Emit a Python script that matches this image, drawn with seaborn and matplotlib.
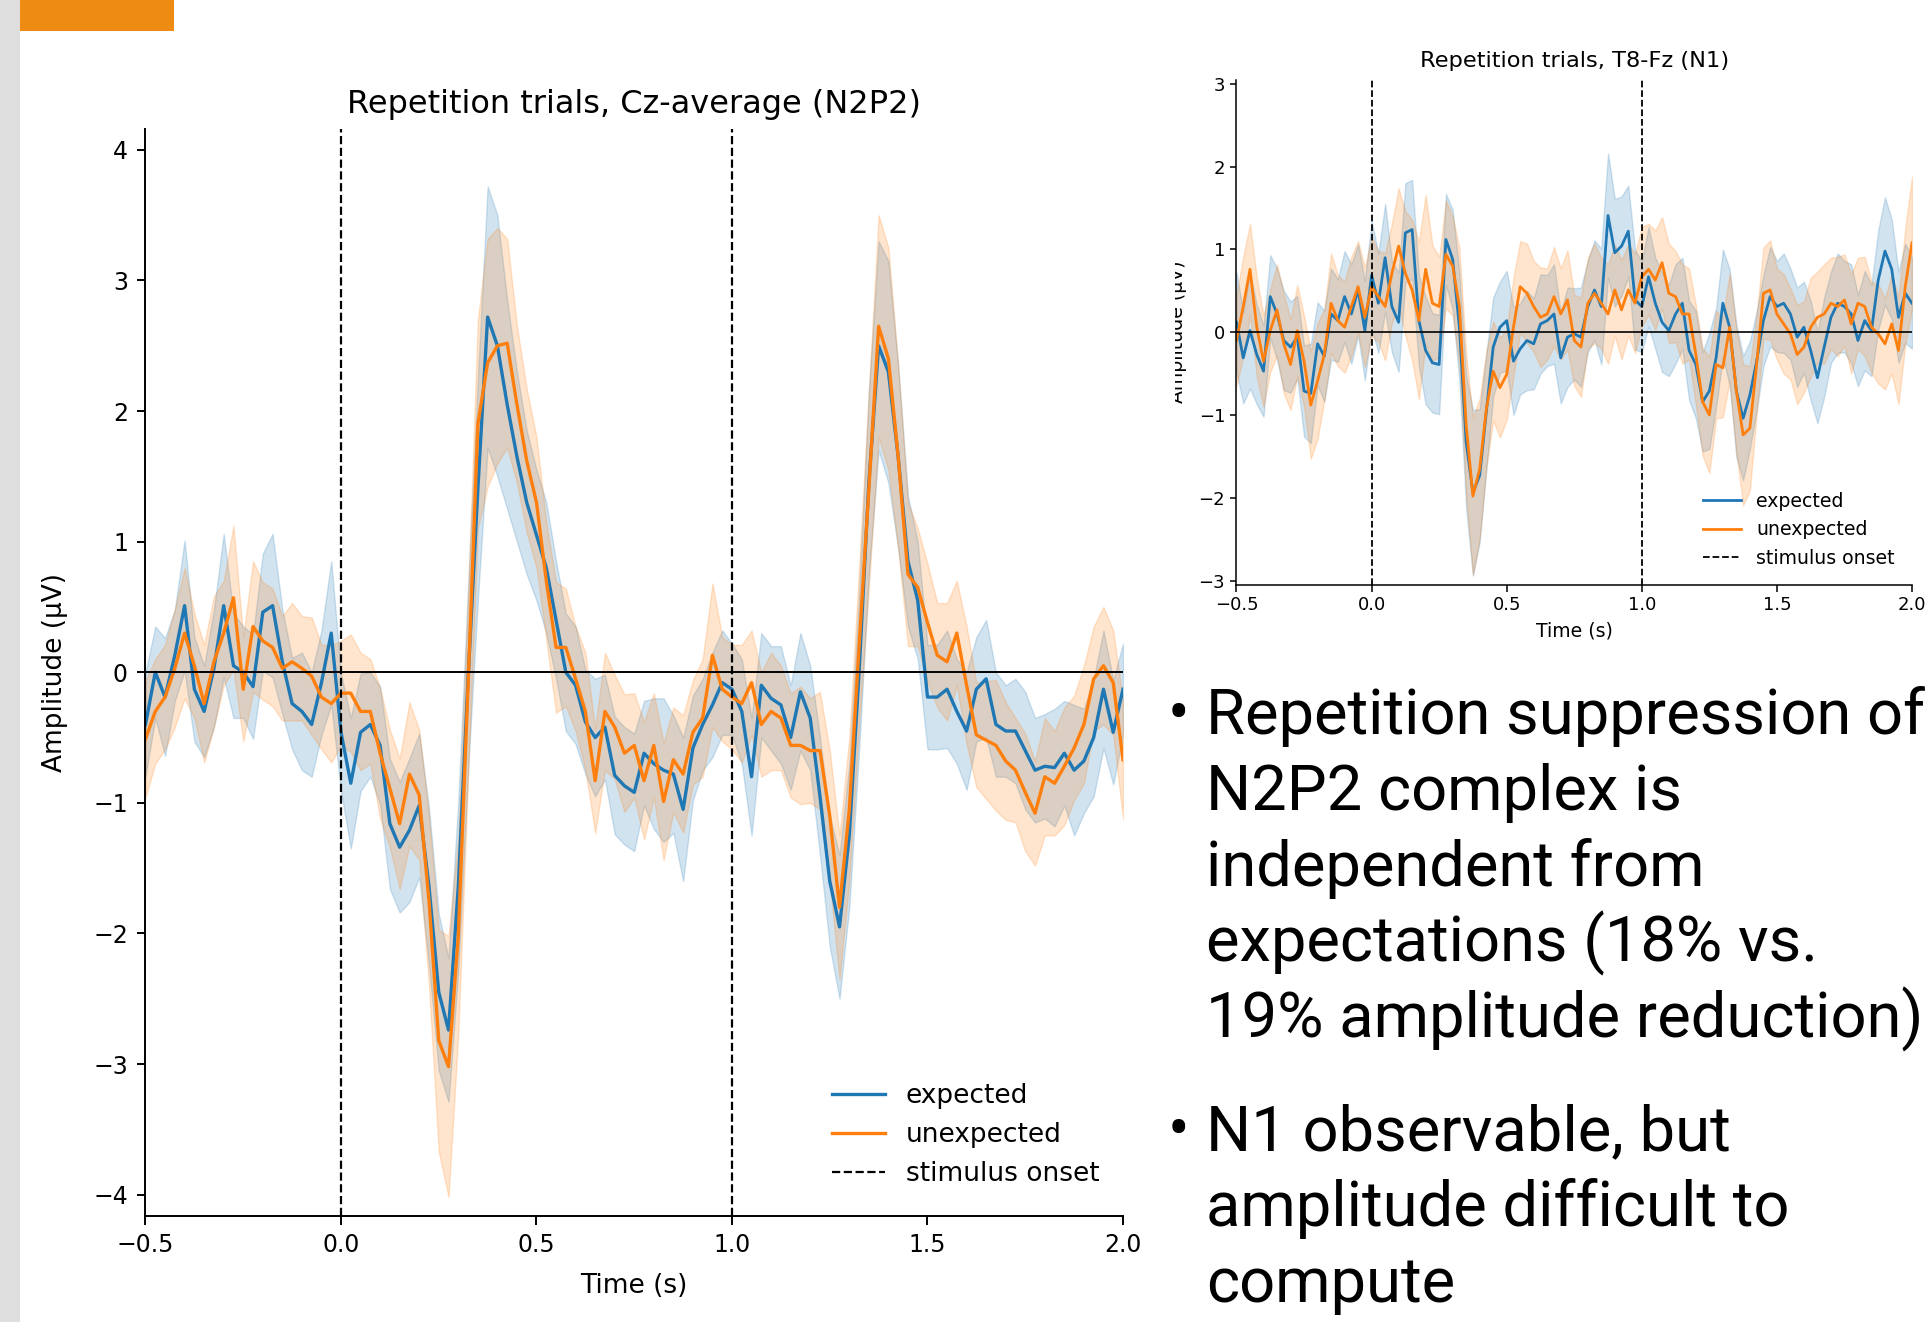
import numpy as np
import pandas as pd
import matplotlib
matplotlib.use("Agg")
import matplotlib.pyplot as plt
import seaborn as sns
from matplotlib.patches import Rectangle
from matplotlib.lines import Line2D
from matplotlib.transforms import Bbox, TransformedBbox

# ---------------- data ----------------
time = np.round(np.arange(101) * 0.025 - 0.5, 3)   # seconds, -0.5 .. 2.0
conditions = ["expected", "unexpected"]
onsets = [0.0, 1.0]
x_ticks = [-0.5, 0.0, 0.5, 1.0, 1.5, 2.0]
left_yticks = [-4, -3, -2, -1, 0, 1, 2, 3, 4]
right_yticks = [-3, -2, -1, 0, 1, 2, 3]

# Cz-average (N2P2) mean amplitudes (µV)
cz_expected = [
    -0.40, 0.00, -0.19, 0.13, 0.51, -0.13, -0.30, 0.03, 0.51, 0.05,
    0.00, -0.11, 0.46, 0.51, 0.08, -0.24, -0.30, -0.40, -0.08, 0.30,
    -0.46, -0.85, -0.46, -0.40, -0.56, -1.16, -1.34, -1.21, -1.02, -1.64,
    -2.45, -2.74, -1.64, -0.05, 1.40, 2.72, 2.50, 2.05, 1.65, 1.30,
    1.05, 0.80, 0.40, 0.00, -0.10, -0.38, -0.50, -0.42, -0.79, -0.87,
    -0.92, -0.62, -0.70, -0.75, -0.78, -1.05, -0.58, -0.40, -0.25, -0.08,
    -0.13, -0.30, -0.80, -0.10, -0.20, -0.25, -0.50, -0.15, -0.35, -0.95,
    -1.60, -1.95, -1.25, 0.00, 1.45, 2.50, 2.30, 1.65, 0.85, 0.55,
    -0.19, -0.19, -0.13, -0.30, -0.45, -0.13, -0.05, -0.40, -0.45, -0.45,
    -0.60, -0.75, -0.72, -0.73, -0.62, -0.75, -0.68, -0.50, -0.13, -0.46, -0.13]
cz_unexpected = [
    -0.51, -0.30, -0.19, 0.03, 0.30, 0.05, -0.24, 0.08, 0.30, 0.57,
    -0.13, 0.35, 0.24, 0.19, 0.03, 0.08, 0.03, -0.03, -0.19, -0.24,
    -0.16, -0.16, -0.30, -0.30, -0.62, -0.89, -1.16, -0.78, -0.94, -1.75,
    -2.82, -3.02, -2.02, -0.10, 1.90, 2.37, 2.50, 2.52, 2.05, 1.62,
    1.30, 0.70, 0.19, 0.19, -0.05, -0.30, -0.83, -0.30, -0.42, -0.62,
    -0.56, -0.83, -0.56, -0.99, -0.67, -0.78, -0.46, -0.35, 0.13, -0.13,
    -0.19, -0.24, -0.08, -0.40, -0.30, -0.35, -0.56, -0.56, -0.60, -0.60,
    -1.10, -1.80, -1.05, 0.20, 1.40, 2.65, 2.40, 1.65, 0.75, 0.65,
    0.38, 0.13, 0.08, 0.30, -0.10, -0.48, -0.52, -0.56, -0.68, -0.75,
    -0.92, -1.08, -0.80, -0.85, -0.72, -0.58, -0.40, -0.05, 0.05, -0.08, -0.67]
cz_expected_ci = [
    0.40, 0.35, 0.45, 0.35, 0.50, 0.40, 0.35, 0.45, 0.55, 0.40,
    0.35, 0.40, 0.45, 0.55, 0.40, 0.35, 0.45, 0.40, 0.40, 0.55,
    0.45, 0.50, 0.45, 0.40, 0.45, 0.50, 0.50, 0.55, 0.55, 0.60,
    0.60, 0.55, 0.65, 0.70, 0.85, 1.00, 1.00, 0.80, 0.65, 0.55,
    0.50, 0.50, 0.45, 0.45, 0.45, 0.40, 0.45, 0.40, 0.45, 0.45,
    0.45, 0.40, 0.50, 0.55, 0.45, 0.55, 0.40, 0.35, 0.40, 0.40,
    0.35, 0.40, 0.45, 0.40, 0.40, 0.45, 0.40, 0.45, 0.40, 0.45,
    0.50, 0.55, 0.55, 0.60, 0.70, 0.80, 0.85, 0.70, 0.50, 0.45,
    0.40, 0.40, 0.45, 0.40, 0.45, 0.40, 0.45, 0.40, 0.35, 0.40,
    0.45, 0.40, 0.40, 0.45, 0.40, 0.50, 0.40, 0.45, 0.45, 0.40, 0.35]
cz_unexpected_ci = [
    0.45, 0.40, 0.40, 0.45, 0.50, 0.40, 0.45, 0.50, 0.40, 0.55,
    0.40, 0.50, 0.45, 0.45, 0.40, 0.45, 0.40, 0.45, 0.40, 0.45,
    0.40, 0.45, 0.45, 0.40, 0.50, 0.45, 0.50, 0.55, 0.50, 0.65,
    0.85, 1.00, 0.75, 0.70, 0.80, 0.95, 0.90, 0.80, 0.60, 0.55,
    0.50, 0.45, 0.50, 0.45, 0.40, 0.45, 0.40, 0.45, 0.40, 0.45,
    0.40, 0.45, 0.40, 0.45, 0.40, 0.45, 0.40, 0.45, 0.55, 0.40,
    0.40, 0.45, 0.40, 0.40, 0.45, 0.40, 0.40, 0.45, 0.40, 0.45,
    0.50, 0.55, 0.55, 0.60, 0.75, 0.85, 0.85, 0.70, 0.55, 0.45,
    0.45, 0.40, 0.45, 0.40, 0.45, 0.40, 0.45, 0.50, 0.45, 0.40,
    0.45, 0.40, 0.45, 0.40, 0.45, 0.40, 0.45, 0.40, 0.45, 0.40, 0.45]

# T8-Fz (N1) mean amplitudes (µV)
t8_expected = [
    0.12, -0.31, 0.02, -0.27, -0.47, 0.43, 0.22, -0.10, -0.18, -0.06,
    -0.71, -0.74, -0.14, -0.29, 0.22, 0.14, 0.43, 0.22, 0.51, 0.02,
    0.69, 0.35, 0.90, 0.31, 0.12, 1.20, 1.24, 0.14, -0.22, -0.37,
    -0.39, 1.12, 0.88, 0.06, -1.33, -1.94, -1.73, -0.95, -0.18, 0.06,
    0.14, -0.35, -0.20, -0.10, -0.14, 0.10, 0.14, 0.22, -0.31, -0.06,
    -0.02, -0.06, 0.31, 0.51, 0.31, 1.41, 0.96, 1.04, 1.22, 0.39,
    0.31, 0.67, 0.35, 0.12, 0.02, 0.22, 0.35, -0.22, -0.39, -0.84,
    -0.71, -0.31, 0.35, 0.06, -0.71, -1.04, -0.76, -0.35, 0.14, 0.43,
    0.31, 0.35, 0.22, -0.06, 0.06, -0.22, -0.55, -0.18, 0.18, 0.35,
    0.31, 0.22, -0.10, 0.14, 0.02, 0.63, 0.98, 0.76, 0.18, 0.47, 0.35]
t8_unexpected = [
    -0.10, 0.31, 0.76, 0.06, -0.35, 0.02, 0.27, -0.14, -0.39, 0.02,
    -0.35, -0.88, -0.59, -0.27, 0.35, 0.14, 0.06, 0.31, 0.55, 0.18,
    0.55, 0.43, 0.31, 0.71, 1.04, 0.71, 0.51, 0.14, 0.76, 0.35,
    0.31, 0.94, 0.80, 0.31, -1.12, -1.98, -1.65, -0.92, -0.47, -0.67,
    -0.51, 0.06, 0.55, 0.47, 0.31, 0.18, 0.22, 0.43, 0.22, 0.39,
    -0.10, -0.18, 0.35, 0.47, 0.35, 0.22, 0.51, 0.27, 0.51, 0.35,
    0.67, 0.76, 0.63, 0.84, 0.47, 0.43, 0.22, 0.22, -0.27, -0.84,
    -1.00, -0.39, -0.43, 0.06, -0.71, -1.24, -1.16, -0.39, 0.47, 0.51,
    0.22, 0.10, -0.02, -0.27, -0.18, 0.06, 0.18, 0.22, 0.35, 0.31,
    0.39, 0.10, 0.35, 0.31, 0.06, -0.02, -0.14, 0.10, -0.22, 0.55, 1.08]
t8_expected_ci = [
    0.60, 0.55, 0.70, 0.60, 0.55, 0.50, 0.55, 0.60, 0.55, 0.50,
    0.55, 0.60, 0.50, 0.55, 0.55, 0.50, 0.55, 0.60, 0.55, 0.60,
    0.65, 0.60, 0.65, 0.55, 0.60, 0.60, 0.60, 0.55, 0.65, 0.60,
    0.60, 0.55, 0.60, 0.65, 0.80, 1.00, 0.80, 0.70, 0.60, 0.55,
    0.60, 0.65, 0.55, 0.60, 0.55, 0.60, 0.55, 0.60, 0.55, 0.60,
    0.55, 0.60, 0.55, 0.60, 0.70, 0.75, 0.65, 0.60, 0.55, 0.60,
    0.55, 0.60, 0.55, 0.60, 0.55, 0.60, 0.55, 0.60, 0.65, 0.60,
    0.70, 0.60, 0.65, 0.70, 0.80, 0.75, 0.65, 0.60, 0.55, 0.60,
    0.55, 0.60, 0.55, 0.60, 0.55, 0.60, 0.55, 0.60, 0.55, 0.60,
    0.55, 0.60, 0.55, 0.60, 0.55, 0.60, 0.65, 0.60, 0.55, 0.60, 0.55]
t8_unexpected_ci = [
    0.55, 0.60, 0.55, 0.60, 0.55, 0.50, 0.55, 0.60, 0.55, 0.55,
    0.55, 0.65, 0.70, 0.55, 0.60, 0.55, 0.55, 0.60, 0.55, 0.60,
    0.60, 0.55, 0.65, 0.60, 0.70, 0.75, 0.85, 0.95, 0.90, 0.70,
    0.60, 0.65, 0.60, 0.70, 0.85, 0.95, 0.85, 0.70, 0.60, 0.60,
    0.55, 0.60, 0.55, 0.60, 0.55, 0.60, 0.55, 0.60, 0.55, 0.60,
    0.55, 0.60, 0.55, 0.60, 0.55, 0.60, 0.55, 0.60, 0.55, 0.60,
    0.60, 0.55, 0.60, 0.55, 0.60, 0.55, 0.60, 0.55, 0.60, 0.65,
    0.70, 0.65, 0.60, 0.65, 0.75, 0.85, 0.75, 0.60, 0.55, 0.60,
    0.55, 0.60, 0.55, 0.60, 0.55, 0.60, 0.55, 0.60, 0.55, 0.60,
    0.55, 0.60, 0.55, 0.60, 0.55, 0.60, 0.55, 0.60, 0.65, 0.70, 0.80]

bullet_lines_1 = ["Repetition suppression of", "N2P2 complex is", "independent from",
                  "expectations (18% vs.", "19% amplitude reduction)"]
bullet_lines_2 = ["N1 observable, but", "amplitude difficult to", "compute"]

colors = ["#1f77b4", "#ff7f0e"]

# ---------------- figure ----------------
W, H = 1933, 1322
fig = plt.figure(figsize=(W / 100, H / 100), dpi=100)
fig.patch.set_facecolor("white")

# slide decorations
fig.patches.append(Rectangle((0, 0), 20 / W, 1, transform=fig.transFigure,
                             facecolor="#dedede", edgecolor="none", zorder=0))
fig.patches.append(Rectangle((20 / W, 1 - 31 / H), 154 / W, 31 / H, transform=fig.transFigure,
                             facecolor="#ee8b12", edgecolor="none", zorder=0))


def band_frame(mean, ci, cond):
    mean = np.asarray(mean)
    ci = np.asarray(ci)
    return pd.DataFrame({
        "Time": np.concatenate([time, time]),
        "Amplitude": np.concatenate([mean - ci, mean + ci]),
        "condition": cond,
    })


def draw_panel(ax, exp_mean, exp_ci, une_mean, une_ci, lw, yticks, ylim,
               title, tick_fs, label_fs, title_fs, title_pad, spine_w, hline_w, vline_w,
               tick_pad, legend_anchor):
    df = pd.concat([band_frame(exp_mean, exp_ci, conditions[0]),
                    band_frame(une_mean, une_ci, conditions[1])], ignore_index=True)
    sns.lineplot(data=df, x="Time", y="Amplitude", hue="condition", hue_order=conditions,
                 palette=colors, errorbar=lambda v: (v.min(), v.max()),
                 linewidth=lw, ax=ax, legend=False)
    for on in onsets:
        ax.axvline(on, color="black", linestyle="--", linewidth=vline_w, zorder=3)
    ax.axhline(0, color="black", linewidth=hline_w, zorder=3)
    ax.set_xlim(-0.5, 2.0)
    ax.set_ylim(*ylim)
    ax.set_xticks(x_ticks)
    ax.set_xticklabels([f"{v:.1f}".replace("-", "\u2212") for v in x_ticks])
    ax.set_yticks(yticks)
    ax.set_yticklabels([f"{v}".replace("-", "\u2212") for v in yticks])
    ax.tick_params(labelsize=tick_fs, width=spine_w, length=tick_fs * 0.36, pad=tick_pad)
    for s in ax.spines.values():
        s.set_linewidth(spine_w)
    sns.despine(ax=ax)
    ax.set_title(title, fontsize=title_fs, pad=title_pad)
    ax.set_xlabel("Time (s)", fontsize=label_fs)
    ax.set_ylabel("Amplitude (\u00b5V)", fontsize=label_fs)
    handles = [Line2D([0], [0], color=colors[0], lw=lw),
               Line2D([0], [0], color=colors[1], lw=lw),
               Line2D([0], [0], color="black", lw=vline_w, linestyle="--")]
    ax.legend(handles, conditions + ["stimulus onset"], loc="lower right",
              bbox_to_anchor=legend_anchor, frameon=False, fontsize=label_fs)


# left panel: Cz-average
ax1 = fig.add_axes([145.5 / W, 1 - 1215.5 / H, (1123 - 145.5) / W, (1215.5 - 129) / H])
draw_panel(ax1, cz_expected, cz_expected_ci, cz_unexpected, cz_unexpected_ci,
           lw=2.4, yticks=left_yticks, ylim=(-4.16, 4.16),
           title="Repetition trials, Cz-average (N2P2)",
           tick_fs=17, label_fs=19, title_fs=23, title_pad=11.5,
           spine_w=1.4, hline_w=1.4, vline_w=1.6, tick_pad=6.5,
           legend_anchor=(1.0, 0.004))
ax1.yaxis.set_label_coords(-0.079, 0.5)
ax1.xaxis.set_label_coords(0.5, -0.053)

# right panel: T8-Fz
ax2 = fig.add_axes([1236.5 / W, 1 - 584.7 / H, (1912 - 1236.5) / W, (584.7 - 79.7) / H])
draw_panel(ax2, t8_expected, t8_expected_ci, t8_unexpected, t8_unexpected_ci,
           lw=2.0, yticks=right_yticks, ylim=(-3.05, 3.05),
           title="Repetition trials, T8-Fz (N1)",
           tick_fs=13, label_fs=13.6, title_fs=16.2, title_pad=9,
           spine_w=1.1, hline_w=1.2, vline_w=1.3, tick_pad=3.5,
           legend_anchor=(1.0, 0.0))
ax2.yaxis.set_label_coords(-0.073, 0.5)
ax2.xaxis.set_label_coords(0.5, -0.072)
ylab = ax2.yaxis.label
ylab.set_clip_box(TransformedBbox(Bbox([[1175 / W, 0], [1, 1]]), fig.transFigure))
ylab.set_clip_on(True)

# bullet text
baselines_1 = [734, 810, 886, 962, 1038]
baselines_2 = [1150, 1226, 1302]
for lines, bases in ((bullet_lines_1, baselines_1), (bullet_lines_2, baselines_2)):
    fig.text(1168 / W, 1 - bases[0] / H, "\u2022", fontsize=46, family="Roboto",
             va="baseline", ha="left", color="black")
    for line, b in zip(lines, bases):
        fig.text(1206 / W, 1 - b / H, line, fontsize=45.5, family="Roboto",
                 va="baseline", ha="left", color="black")

fig.savefig("out.png", dpi=100)
